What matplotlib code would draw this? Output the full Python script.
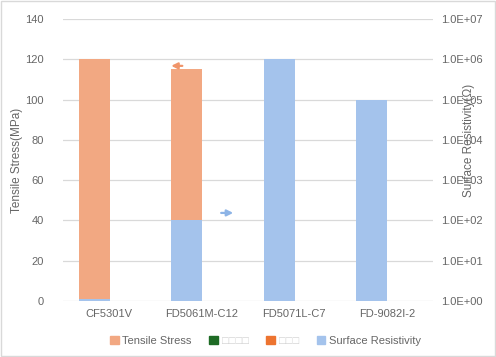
import matplotlib
matplotlib.use('Agg')
import matplotlib.pyplot as plt
from matplotlib.patches import Patch, Rectangle
from matplotlib.ticker import FuncFormatter, MultipleLocator, LogLocator, NullLocator
import numpy as np

plt.rcParams['font.family'] = ['Liberation Sans', 'DejaVu Sans']

categories = ['CF5301V', 'FD5061M-C12', 'FD5071L-C7', 'FD-9082I-2']
tensile_stress = [120, 115, 0, 0]
surface_resistivity = [1.1, 1e2, 1e6, 1e5]
legend_labels = ['Tensile Stress', '□□□□', '□□□', 'Surface Resistivity']

orange = '#F2A882'
blue = '#A4C3EC'
green = '#1E6B25'
dark_orange = '#ED7430'
grid_color = '#D9D9D9'
text_color = '#666666'

fig = plt.figure(figsize=(4.96, 3.57), dpi=100)
ax = fig.add_axes([0.127, 0.157, 0.746, 0.79])
ax2 = ax.twinx()

x = np.arange(len(categories))
width = 0.335
offset = -0.16

ax.bar(x + offset, tensile_stress, width, color=orange, zorder=2)
ax2.bar(x + offset, surface_resistivity, width, color=blue, zorder=2)

ax.set_xlim(-0.5, len(categories) - 0.5)
ax.set_ylim(0, 140)
ax.yaxis.set_major_locator(MultipleLocator(20))
ax2.set_yscale('log')
ax2.set_ylim(1, 1e7)
ax2.yaxis.set_major_locator(LogLocator(base=10, numticks=10))
ax2.yaxis.set_minor_locator(NullLocator())
ax2.yaxis.set_major_formatter(FuncFormatter(lambda v, p: f"{v:.1E}"))

ax.grid(axis='y', color=grid_color, linewidth=0.9, zorder=0)
ax.set_axisbelow(True)
for a in (ax, ax2):
    for s in a.spines.values():
        s.set_visible(False)
    a.tick_params(length=0, labelsize=8, labelcolor=text_color)
ax.tick_params(axis='y', pad=14)
ax2.tick_params(axis='y', pad=6)
ax.tick_params(axis='x', pad=6)
ax.set_xticks(x)
ax.set_xticklabels(categories)

ax.set_ylabel('Tensile Stress(MPa)', fontsize=8.5, color=text_color)
ax.yaxis.set_label_coords(-0.108, 0.5)
ax2.set_ylabel('Surface Resistivity(Ω)', fontsize=8.5, color=text_color, rotation=90)
ax2.yaxis.set_label_coords(1.08, 0.57)

# small arrows pointing to each axis
ax.annotate('', xy=(0.64, 116.7), xytext=(0.82, 116.7),
            arrowprops=dict(arrowstyle='-|>', color='#F0956A', lw=1.6,
                            mutation_scale=9))
ax.annotate('', xy=(1.37, 43.7), xytext=(1.18, 43.7),
            arrowprops=dict(arrowstyle='-|>', color='#8DB4E6', lw=1.6,
                            mutation_scale=9))

handles = [Patch(color=orange), Patch(color=green), Patch(color=dark_orange), Patch(color=blue)]
leg = fig.legend(handles, legend_labels, loc='center', bbox_to_anchor=(0.535, 0.045),
                 ncol=4, frameon=False, fontsize=8, handlelength=0.8, handleheight=0.8,
                 handletextpad=0.3, columnspacing=1.6)
for i, t in enumerate(leg.get_texts()):
    t.set_color('#D0D0D0' if legend_labels[i].startswith('□') else text_color)

fig.patches.append(Rectangle((0.002, 0.002), 0.996, 0.996, transform=fig.transFigure,
                             fill=False, edgecolor=grid_color, linewidth=1))

fig.savefig('out.png', dpi=100)
